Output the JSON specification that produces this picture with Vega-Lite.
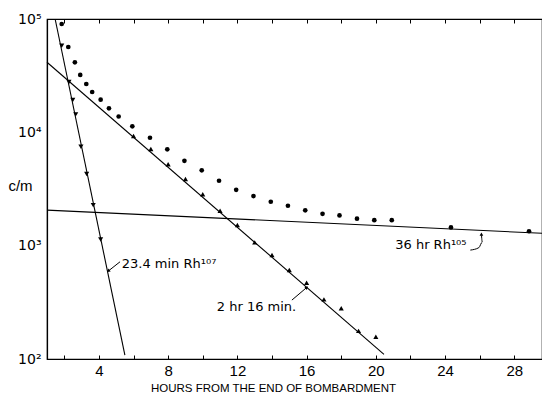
{
  "$schema": "https://vega.github.io/schema/vega-lite/v6.json",
  "width": 495,
  "height": 340,
  "autosize": {"type": "none"},
  "padding": {"left": 47, "top": 19, "right": 0, "bottom": 38},
  "background": "white",
  "config": {
    "view": {"stroke": "black", "strokeWidth": 1.2},
    "font": "Liberation Sans",
    "axis": {"domainColor": "black", "tickColor": "black", "labelColor": "black", "titleColor": "black", "grid": false, "labelFont": "Liberation Sans", "titleFont": "Liberation Sans", "titleFontWeight": "normal", "domainWidth": 1.2, "tickWidth": 1}
  },
  "datasets": {
    "lines": [
      {"line": "a", "h": 1.47, "v": 100000},
      {"line": "a", "h": 5.5, "v": 108},
      {"line": "b", "h": 1.0, "v": 41500},
      {"line": "b", "h": 20.47, "v": 110},
      {"line": "c", "h": 1.0, "v": 2060},
      {"line": "c", "h": 29.6, "v": 1285}
    ],
    "circles": [
      {"h": 1.85, "v": 90300}, {"h": 2.23, "v": 56600}, {"h": 2.61, "v": 41500}, {"h": 2.92, "v": 32100},
      {"h": 3.27, "v": 26700}, {"h": 3.61, "v": 22700}, {"h": 4.1, "v": 19400}, {"h": 4.58, "v": 16300},
      {"h": 5.14, "v": 13800}, {"h": 5.93, "v": 11300}, {"h": 6.95, "v": 8960}, {"h": 7.95, "v": 7080},
      {"h": 8.94, "v": 5610}, {"h": 9.94, "v": 4620}, {"h": 10.94, "v": 3740}, {"h": 11.93, "v": 3110},
      {"h": 12.93, "v": 2740}, {"h": 13.93, "v": 2440}, {"h": 14.92, "v": 2250}, {"h": 15.92, "v": 2050},
      {"h": 16.92, "v": 1910}, {"h": 17.9, "v": 1850}, {"h": 18.91, "v": 1730}, {"h": 19.91, "v": 1680},
      {"h": 20.92, "v": 1680}, {"h": 24.34, "v": 1450}, {"h": 28.85, "v": 1340}
    ],
    "down": [
      {"h": 1.85, "v": 58100}, {"h": 2.27, "v": 27800}, {"h": 2.49, "v": 19300}, {"h": 2.66, "v": 14400},
      {"h": 2.96, "v": 7460}, {"h": 3.29, "v": 4290}, {"h": 3.67, "v": 2280}, {"h": 4.1, "v": 1135}
    ],
    "up": [
      {"h": 6, "v": 9270}, {"h": 7, "v": 7120}, {"h": 8, "v": 5220}, {"h": 9, "v": 3870}, {"h": 10, "v": 2840},
      {"h": 11, "v": 2030}, {"h": 12, "v": 1520}, {"h": 13, "v": 1070}, {"h": 14, "v": 826}, {"h": 15, "v": 609},
      {"h": 16, "v": 471}, {"h": 17, "v": 336}, {"h": 18, "v": 280}, {"h": 19, "v": 177}, {"h": 20, "v": 157}
    ],
    "leaders": [
      {"h": 4.54, "v": 597, "h2": 5.22, "v2": 721},
      {"h": 15.15, "v": 331, "h2": 16.01, "v2": 428}
    ],
    "curve": [
      {"o": 1, "h": 25.46, "v": 914},
      {"o": 2, "h": 25.95, "v": 960},
      {"o": 3, "h": 26.15, "v": 1076},
      {"o": 4, "h": 26.1, "v": 1265}
    ],
    "arrows": [
      {"name": "a", "h": 4.54, "v": 597},
      {"name": "b", "h": 16.01, "v": 428},
      {"name": "c", "h": 26.1, "v": 1265}
    ],
    "labels": [
      {"h": 5.32, "v": 689, "t": "23.4 min Rh¹⁰⁷"},
      {"h": 10.81, "v": 287, "t": "2 hr 16 min."},
      {"h": 21.12, "v": 1012, "t": "36 hr Rh¹⁰⁵"}
    ]
  },
  "resolve": {"scale": {"x": "independent"}, "axis": {"x": "independent"}},
  "encoding": {
    "y": {
      "field": "v", "type": "quantitative",
      "scale": {"type": "log", "domain": [100, 100000], "nice": false},
      "axis": {
        "values": [100, 1000, 10000, 100000],
        "labelExpr": "'10' + (datum.value == 100000 ? '⁵' : datum.value == 10000 ? '⁴' : datum.value == 1000 ? '³' : '²')",
        "labelFont": "DejaVu Sans", "labelFontSize": 14, "tickSize": 0, "labelPadding": 6, "domain": true, "domainColor": "black",
        "title": "c/m", "titleAngle": 0, "titleFontSize": 15, "titleX": -27, "titleY": 166, "titleAlign": "center", "titleBaseline": "middle"
      }
    }
  },
  "layer": [
    {
      "data": {"name": "lines"},
      "mark": {"type": "line", "color": "black", "strokeWidth": 1.1},
      "encoding": {
        "x": {"field": "h", "type": "quantitative", "scale": {"domain": [1, 29.6], "nice": false, "zero": false},
          "axis": {"orient": "bottom", "values": [2, 4, 6, 8, 10, 12, 14, 16, 18, 20, 22, 24, 26, 28],
            "labelExpr": "datum.value % 4 == 0 ? datum.label : ''", "ticks": true, "tickColor": "black", "tickWidth": 1, "tickSize": -4, "tickOpacity": 1,
            "domain": true, "domainColor": "black", "domainWidth": 1.2, "domainOpacity": 1, "labelPadding": 8,
            "labelFontSize": 15, "title": "HOURS FROM THE END OF BOMBARDMENT", "titleFontSize": 11.5, "titlePadding": 4, "titleX": 226, "titleAlign": "center"}},
        "detail": {"field": "line"}
      }
    },
    {
      "data": {"name": "circles"},
      "mark": {"type": "point", "shape": "circle", "filled": true, "color": "black", "size": 22, "opacity": 1},
      "encoding": {
        "x": {"field": "h", "type": "quantitative", "scale": {"domain": [1, 29.6], "nice": false, "zero": false},
          "axis": {"orient": "top", "values": [2, 4, 6, 8, 10, 12, 14, 16, 18, 20, 22, 24, 26, 28], "labels": false,
            "ticks": true, "tickColor": "black", "tickWidth": 1, "tickSize": -4, "tickOpacity": 1,
            "domain": true, "domainColor": "black", "domainWidth": 1.2, "domainOpacity": 1, "title": null}}
      }
    },
    {
      "data": {"name": "up"},
      "mark": {"type": "point", "shape": "triangle-up", "filled": true, "color": "black", "size": 26, "opacity": 1},
      "encoding": {"x": {"field": "h", "type": "quantitative", "scale": {"domain": [1, 29.6], "nice": false, "zero": false}, "axis": null}}
    },
    {
      "data": {"name": "down"},
      "mark": {"type": "point", "shape": "triangle-down", "filled": true, "color": "black", "size": 26, "opacity": 1},
      "encoding": {"x": {"field": "h", "type": "quantitative", "scale": {"domain": [1, 29.6], "nice": false, "zero": false}, "axis": null}}
    },
    {
      "data": {"name": "leaders"},
      "mark": {"type": "rule", "color": "black", "strokeWidth": 1},
      "encoding": {"x": {"field": "h", "type": "quantitative", "scale": {"domain": [1, 29.6], "nice": false, "zero": false}, "axis": null}, "x2": {"field": "h2"}, "y2": {"field": "v2"}}
    },
    {
      "data": {"name": "curve"},
      "mark": {"type": "line", "color": "black", "strokeWidth": 1, "interpolate": "monotone"},
      "encoding": {"x": {"field": "h", "type": "quantitative", "scale": {"domain": [1, 29.6], "nice": false, "zero": false}, "axis": null}, "order": {"field": "o"}}
    },
    {
      "data": {"name": "arrows"},
      "transform": [{"filter": "datum.name == 'a'"}],
      "mark": {"type": "point", "shape": "triangle-up", "filled": true, "color": "black", "size": 14, "angle": 232, "opacity": 1},
      "encoding": {"x": {"field": "h", "type": "quantitative", "scale": {"domain": [1, 29.6], "nice": false, "zero": false}, "axis": null}}
    },
    {
      "data": {"name": "arrows"},
      "transform": [{"filter": "datum.name == 'b'"}],
      "mark": {"type": "point", "shape": "triangle-up", "filled": true, "color": "black", "size": 14, "angle": 50, "opacity": 1},
      "encoding": {"x": {"field": "h", "type": "quantitative", "scale": {"domain": [1, 29.6], "nice": false, "zero": false}, "axis": null}}
    },
    {
      "data": {"name": "arrows"},
      "transform": [{"filter": "datum.name == 'c'"}],
      "mark": {"type": "point", "shape": "triangle-up", "filled": true, "color": "black", "size": 14, "angle": 0, "opacity": 1},
      "encoding": {"x": {"field": "h", "type": "quantitative", "scale": {"domain": [1, 29.6], "nice": false, "zero": false}, "axis": null}}
    },
    {
      "data": {"name": "labels"},
      "mark": {"type": "text", "align": "left", "baseline": "middle", "fontSize": 13, "color": "black", "font": "DejaVu Sans"},
      "encoding": {"x": {"field": "h", "type": "quantitative", "scale": {"domain": [1, 29.6], "nice": false, "zero": false}, "axis": null}, "text": {"field": "t"}}
    }
  ]
}
